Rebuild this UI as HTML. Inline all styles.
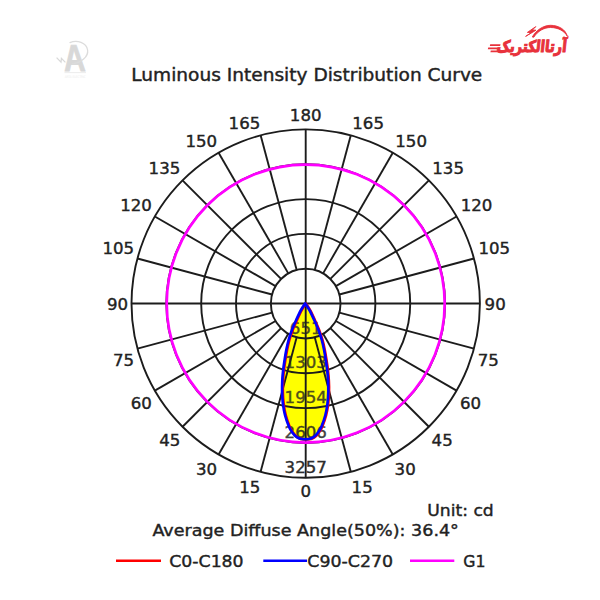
<!DOCTYPE html>
<html lang="en"><head><meta charset="utf-8"><title>Luminous Intensity Distribution Curve</title>
<style>
html,body{margin:0;padding:0;background:#fff;}
body{width:600px;height:600px;overflow:hidden;}
svg{display:block;}
text{font-family:"DejaVu Sans","Liberation Sans",sans-serif;font-size:16.6px;fill:#222;stroke:#222;stroke-width:0.4px;}
.g{stroke:#1c1c1c;stroke-width:1.9;fill:none;}
</style></head><body>
<svg width="600" height="600" viewBox="0 0 600 600">
<rect width="600" height="600" fill="#fff"/>
<path id="lobe" d="M305.20 303.50 C305.90 304.58 307.90 307.25 309.40 310.00 C310.90 312.75 312.68 316.67 314.20 320.00 C315.72 323.33 317.23 326.67 318.50 330.00 C319.77 333.33 320.87 336.67 321.80 340.00 C322.73 343.33 323.43 346.67 324.10 350.00 C324.77 353.33 325.28 356.67 325.80 360.00 C326.32 363.33 326.82 366.67 327.20 370.00 C327.58 373.33 327.92 376.38 328.10 380.00 C328.28 383.62 328.40 387.82 328.30 391.70 C328.20 395.58 327.98 399.42 327.50 403.30 C327.02 407.18 326.42 411.10 325.40 415.00 C324.38 418.90 322.63 423.78 321.40 426.70 C320.17 429.62 319.07 430.95 318.00 432.50 C316.93 434.05 316.00 435.08 315.00 436.00 C314.00 436.92 313.05 437.50 312.00 438.00 C310.95 438.50 309.83 438.80 308.70 439.00 C307.57 439.20 306.37 439.20 305.20 439.20 C304.03 439.20 302.83 439.20 301.70 439.00 C300.57 438.80 299.45 438.50 298.40 438.00 C297.35 437.50 296.40 436.92 295.40 436.00 C294.40 435.08 293.47 434.05 292.40 432.50 C291.33 430.95 290.23 429.62 289.00 426.70 C287.77 423.78 286.02 418.90 285.00 415.00 C283.98 411.10 283.38 407.18 282.90 403.30 C282.42 399.42 282.20 395.58 282.10 391.70 C282.00 387.82 282.12 383.62 282.30 380.00 C282.48 376.38 282.82 373.33 283.20 370.00 C283.58 366.67 284.08 363.33 284.60 360.00 C285.12 356.67 285.63 353.33 286.30 350.00 C286.97 346.67 287.67 343.33 288.60 340.00 C289.53 336.67 290.63 333.33 291.90 330.00 C293.17 326.67 294.68 323.33 296.20 320.00 C297.72 316.67 299.50 312.75 301.00 310.00 C302.50 307.25 304.50 304.58 305.20 303.50 Z" fill="#ffff00" stroke="none"/>
<g class="g">
<circle cx="305.7" cy="303.6" r="34.84"/>
<circle cx="305.7" cy="303.6" r="69.68"/>
<circle cx="305.7" cy="303.6" r="104.52"/>
<circle cx="305.7" cy="303.6" r="139.36"/>
<circle cx="305.7" cy="303.6" r="174.20"/>
<line x1="305.70" y1="303.55" x2="305.70" y2="129.35"/>
<line x1="314.72" y1="269.90" x2="350.79" y2="135.29"/>
<line x1="323.12" y1="273.38" x2="392.80" y2="152.69"/>
<line x1="330.34" y1="278.91" x2="428.88" y2="180.37"/>
<line x1="335.87" y1="286.13" x2="456.56" y2="216.45"/>
<line x1="339.35" y1="294.53" x2="473.96" y2="258.46"/>
<line x1="305.70" y1="303.55" x2="479.90" y2="303.55"/>
<line x1="339.35" y1="312.57" x2="473.96" y2="348.64"/>
<line x1="335.87" y1="320.97" x2="456.56" y2="390.65"/>
<line x1="330.34" y1="328.19" x2="428.88" y2="426.73"/>
<line x1="323.12" y1="333.72" x2="392.80" y2="454.41"/>
<line x1="314.72" y1="337.20" x2="350.79" y2="471.81"/>
<line x1="305.70" y1="303.55" x2="305.70" y2="477.75"/>
<line x1="296.68" y1="337.20" x2="260.61" y2="471.81"/>
<line x1="288.28" y1="333.72" x2="218.60" y2="454.41"/>
<line x1="281.06" y1="328.19" x2="182.52" y2="426.73"/>
<line x1="275.53" y1="320.97" x2="154.84" y2="390.65"/>
<line x1="272.05" y1="312.57" x2="137.44" y2="348.64"/>
<line x1="305.70" y1="303.55" x2="131.50" y2="303.55"/>
<line x1="272.05" y1="294.53" x2="137.44" y2="258.46"/>
<line x1="275.53" y1="286.13" x2="154.84" y2="216.45"/>
<line x1="281.06" y1="278.91" x2="182.52" y2="180.37"/>
<line x1="288.28" y1="273.38" x2="218.60" y2="152.69"/>
<line x1="296.68" y1="269.90" x2="260.61" y2="135.29"/>
</g>
<text x="305.7" y="333.5" text-anchor="middle" opacity="0.8">651</text>
<text x="305.7" y="368.3" text-anchor="middle" opacity="0.8">1303</text>
<text x="305.7" y="403.2" text-anchor="middle" opacity="0.8">1954</text>
<text x="305.7" y="438.0" text-anchor="middle" opacity="0.86">2606</text>
<text x="305.7" y="472.9" text-anchor="middle" opacity="0.95">3257</text>
<path d="M305.20 303.50 C305.90 304.58 307.90 307.25 309.40 310.00 C310.90 312.75 312.68 316.67 314.20 320.00 C315.72 323.33 317.23 326.67 318.50 330.00 C319.77 333.33 320.87 336.67 321.80 340.00 C322.73 343.33 323.43 346.67 324.10 350.00 C324.77 353.33 325.28 356.67 325.80 360.00 C326.32 363.33 326.82 366.67 327.20 370.00 C327.58 373.33 327.92 376.38 328.10 380.00 C328.28 383.62 328.40 387.82 328.30 391.70 C328.20 395.58 327.98 399.42 327.50 403.30 C327.02 407.18 326.42 411.10 325.40 415.00 C324.38 418.90 322.63 423.78 321.40 426.70 C320.17 429.62 319.07 430.95 318.00 432.50 C316.93 434.05 316.00 435.08 315.00 436.00 C314.00 436.92 313.05 437.50 312.00 438.00 C310.95 438.50 309.83 438.80 308.70 439.00 C307.57 439.20 306.37 439.20 305.20 439.20 C304.03 439.20 302.83 439.20 301.70 439.00 C300.57 438.80 299.45 438.50 298.40 438.00 C297.35 437.50 296.40 436.92 295.40 436.00 C294.40 435.08 293.47 434.05 292.40 432.50 C291.33 430.95 290.23 429.62 289.00 426.70 C287.77 423.78 286.02 418.90 285.00 415.00 C283.98 411.10 283.38 407.18 282.90 403.30 C282.42 399.42 282.20 395.58 282.10 391.70 C282.00 387.82 282.12 383.62 282.30 380.00 C282.48 376.38 282.82 373.33 283.20 370.00 C283.58 366.67 284.08 363.33 284.60 360.00 C285.12 356.67 285.63 353.33 286.30 350.00 C286.97 346.67 287.67 343.33 288.60 340.00 C289.53 336.67 290.63 333.33 291.90 330.00 C293.17 326.67 294.68 323.33 296.20 320.00 C297.72 316.67 299.50 312.75 301.00 310.00 C302.50 307.25 304.50 304.58 305.20 303.50 Z" fill="none" stroke="#ff0000" stroke-width="2.7" stroke-linejoin="round" transform="translate(0.7,0.2)"/>
<path d="M305.20 303.50 C305.90 304.58 307.90 307.25 309.40 310.00 C310.90 312.75 312.68 316.67 314.20 320.00 C315.72 323.33 317.23 326.67 318.50 330.00 C319.77 333.33 320.87 336.67 321.80 340.00 C322.73 343.33 323.43 346.67 324.10 350.00 C324.77 353.33 325.28 356.67 325.80 360.00 C326.32 363.33 326.82 366.67 327.20 370.00 C327.58 373.33 327.92 376.38 328.10 380.00 C328.28 383.62 328.40 387.82 328.30 391.70 C328.20 395.58 327.98 399.42 327.50 403.30 C327.02 407.18 326.42 411.10 325.40 415.00 C324.38 418.90 322.63 423.78 321.40 426.70 C320.17 429.62 319.07 430.95 318.00 432.50 C316.93 434.05 316.00 435.08 315.00 436.00 C314.00 436.92 313.05 437.50 312.00 438.00 C310.95 438.50 309.83 438.80 308.70 439.00 C307.57 439.20 306.37 439.20 305.20 439.20 C304.03 439.20 302.83 439.20 301.70 439.00 C300.57 438.80 299.45 438.50 298.40 438.00 C297.35 437.50 296.40 436.92 295.40 436.00 C294.40 435.08 293.47 434.05 292.40 432.50 C291.33 430.95 290.23 429.62 289.00 426.70 C287.77 423.78 286.02 418.90 285.00 415.00 C283.98 411.10 283.38 407.18 282.90 403.30 C282.42 399.42 282.20 395.58 282.10 391.70 C282.00 387.82 282.12 383.62 282.30 380.00 C282.48 376.38 282.82 373.33 283.20 370.00 C283.58 366.67 284.08 363.33 284.60 360.00 C285.12 356.67 285.63 353.33 286.30 350.00 C286.97 346.67 287.67 343.33 288.60 340.00 C289.53 336.67 290.63 333.33 291.90 330.00 C293.17 326.67 294.68 323.33 296.20 320.00 C297.72 316.67 299.50 312.75 301.00 310.00 C302.50 307.25 304.50 304.58 305.20 303.50 Z" fill="none" stroke="#0000ff" stroke-width="2.7" stroke-linejoin="round"/>
<circle cx="305.7" cy="303.6" r="139" fill="none" stroke="#ff00ff" stroke-width="2.7"/>
<text x="305.7" y="497.1" text-anchor="middle">0</text>
<text x="260.3" y="493.1" text-anchor="end">15</text>
<text x="351.6" y="493.1" text-anchor="start">15</text>
<text x="217.2" y="474.5" text-anchor="end">30</text>
<text x="394.6" y="474.5" text-anchor="start">30</text>
<text x="180.3" y="446.0" text-anchor="end">45</text>
<text x="431.6" y="446.0" text-anchor="start">45</text>
<text x="151.9" y="408.6" text-anchor="end">60</text>
<text x="460.0" y="408.6" text-anchor="start">60</text>
<text x="134.1" y="366.4" text-anchor="end">75</text>
<text x="477.8" y="366.4" text-anchor="start">75</text>
<text x="128.0" y="310.1" text-anchor="end">90</text>
<text x="484.6" y="310.1" text-anchor="start">90</text>
<text x="134.1" y="253.7" text-anchor="end">105</text>
<text x="478.5" y="253.7" text-anchor="start">105</text>
<text x="151.9" y="210.6" text-anchor="end">120</text>
<text x="460.7" y="210.6" text-anchor="start">120</text>
<text x="180.3" y="174.4" text-anchor="end">135</text>
<text x="432.3" y="174.4" text-anchor="start">135</text>
<text x="217.2" y="147.1" text-anchor="end">150</text>
<text x="395.3" y="147.1" text-anchor="start">150</text>
<text x="260.3" y="128.7" text-anchor="end">165</text>
<text x="352.3" y="128.7" text-anchor="start">165</text>
<text x="305.7" y="121.4" text-anchor="middle">180</text>
<text x="131.3" y="81" textLength="351" lengthAdjust="spacingAndGlyphs" style="font-size:17px">Luminous Intensity Distribution Curve</text>
<text x="427.2" y="516.0" textLength="66.6" lengthAdjust="spacingAndGlyphs">Unit: cd</text>
<text x="152.4" y="536.0" textLength="306.5" lengthAdjust="spacingAndGlyphs">Average Diffuse Angle(50%): 36.4°</text>
<line x1="116" y1="560.7" x2="161" y2="560.7" stroke="#ff0000" stroke-width="2.6"/>
<text x="169.3" y="566.8" textLength="74.3" lengthAdjust="spacingAndGlyphs">C0-C180</text>
<line x1="263.3" y1="560.7" x2="307" y2="560.7" stroke="#0000ff" stroke-width="2.6"/>
<text x="307.3" y="566.8" textLength="85.8" lengthAdjust="spacingAndGlyphs">C90-C270</text>
<line x1="410" y1="560.7" x2="454.3" y2="560.7" stroke="#ff00ff" stroke-width="2.6"/>
<text x="463.3" y="566.8" textLength="22.2" lengthAdjust="spacingAndGlyphs">G1</text>
<g id="brand" fill="#e8323c" stroke="none">
<text transform="translate(531.2,52.0) skewX(-6)" x="0" y="0" text-anchor="middle" textLength="70" lengthAdjust="spacingAndGlyphs" direction="rtl" style="font-family:'DejaVu Sans','Liberation Sans',sans-serif;font-weight:bold;font-size:16px;fill:#e8323c;stroke:#e8323c;stroke-width:1.1px">آرتاالکتریک</text>
<path d="M490.2 44.2 L500.5 44.2 L500.1 46.0 L489.8 46.0 Z M488.2 47.4 L499.8 47.4 L499.4 49.2 L487.8 49.2 Z M490.8 50.6 L499 50.6 L498.6 52.3 L490.4 52.3 Z"/>
<path d="M532.3 37 C536 30.2 543.5 25.3 550.5 25.3 C558.5 25.3 565.6 29.4 567.3 36.2 C564.6 31.2 558.2 27.5 550.5 27.5 C544.2 27.5 537.8 31 533.8 37.2 Z M535.8 26.6 L527.4 32.4 L531.4 32.6 L525.6 36.4 L536 30.2 L532.4 30 Z" stroke="#e8323c" stroke-width="0.9" stroke-linejoin="round"/>
</g>
<g id="wm" opacity="0.9">
<text transform="translate(75.0,70.7) scale(0.8,1) skewX(4)" x="0" y="0" text-anchor="middle" style="font-family:'Liberation Sans',sans-serif;font-weight:bold;font-size:37.5px;fill:#d4d4d4;stroke:#d4d4d4;stroke-width:0.8px">A</text>
<path d="M70 42.6 C77 39.6 86.5 42.5 87.6 50 C88.6 57 81 62.6 72.6 63.9" fill="none" stroke="#d9d9d9" stroke-width="1.3" stroke-linecap="round"/>
<path d="M56.6 57.6 L61 62.2 L61.4 58.4 L65.4 62.4" fill="none" stroke="#d4d4d4" stroke-width="1.2" stroke-linejoin="miter"/>
<line x1="64.5" y1="72.6" x2="86" y2="72.6" stroke="#e6e6e6" stroke-width="0.8"/>
<text x="75.2" y="78" text-anchor="middle" textLength="21" lengthAdjust="spacingAndGlyphs" style="font-size:3.4px;fill:#ececec;stroke:none">ARTA ELECTRIC</text>
</g>
</svg></body></html>
